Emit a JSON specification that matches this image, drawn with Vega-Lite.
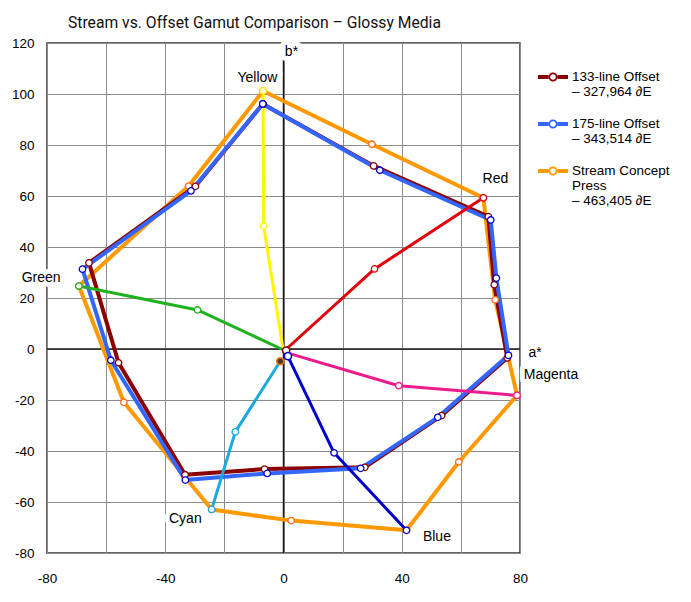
{
  "$schema": "https://vega.github.io/schema/vega-lite/v6.json",
  "width": 473,
  "height": 510,
  "padding": {"left": 11, "top": 15, "right": 0, "bottom": 0},
  "background": "white",
  "title": {
    "text": "Stream vs. Offset Gamut Comparison – Glossy Media",
    "anchor": "start",
    "frame": "group",
    "dx": 21,
    "offset": 4,
    "font": "Roboto",
    "fontSize": 15.7,
    "fontWeight": "normal",
    "color": "#111111"
  },
  "config": {
    "view": {"stroke": "#333333", "strokeWidth": 1.5},
    "font": "Liberation Sans"
  },
  "resolve": {"scale": {"stroke": "independent", "fill": "independent"}},
  "datasets": {
    "gamut": [
      {"series": "Stream Concept Press", "i": 1, "a": -6.9, "b": 101.2},
      {"series": "Stream Concept Press", "i": 2, "a": 29.9, "b": 80.3},
      {"series": "Stream Concept Press", "i": 3, "a": 67.6, "b": 59.3},
      {"series": "Stream Concept Press", "i": 4, "a": 71.6, "b": 19.3},
      {"series": "Stream Concept Press", "i": 5, "a": 79.0, "b": -18.2},
      {"series": "Stream Concept Press", "i": 6, "a": 59.3, "b": -44.3},
      {"series": "Stream Concept Press", "i": 7, "a": 41.6, "b": -71.1},
      {"series": "Stream Concept Press", "i": 8, "a": 2.6, "b": -67.3},
      {"series": "Stream Concept Press", "i": 9, "a": -24.3, "b": -62.9},
      {"series": "Stream Concept Press", "i": 10, "a": -54.0, "b": -20.9},
      {"series": "Stream Concept Press", "i": 11, "a": -69.2, "b": 24.7},
      {"series": "Stream Concept Press", "i": 12, "a": -32.1, "b": 63.9},
      {"series": "Stream Concept Press", "i": 13, "a": -6.9, "b": 101.2},
      {"series": "133-line Offset", "i": 1, "a": -7.0, "b": 96.1},
      {"series": "133-line Offset", "i": 2, "a": 30.5, "b": 71.8},
      {"series": "133-line Offset", "i": 3, "a": 69.3, "b": 51.9},
      {"series": "133-line Offset", "i": 4, "a": 71.3, "b": 25.2},
      {"series": "133-line Offset", "i": 5, "a": 75.7, "b": -3.5},
      {"series": "133-line Offset", "i": 6, "a": 53.5, "b": -26.1},
      {"series": "133-line Offset", "i": 7, "a": 27.5, "b": -46.4},
      {"series": "133-line Offset", "i": 8, "a": -6.4, "b": -47.1},
      {"series": "133-line Offset", "i": 9, "a": -33.3, "b": -49.3},
      {"series": "133-line Offset", "i": 10, "a": -55.8, "b": -5.4},
      {"series": "133-line Offset", "i": 11, "a": -65.8, "b": 33.8},
      {"series": "133-line Offset", "i": 12, "a": -29.8, "b": 63.8},
      {"series": "133-line Offset", "i": 13, "a": -7.0, "b": 96.1},
      {"series": "175-line Offset", "i": 1, "a": -7.0, "b": 96.1},
      {"series": "175-line Offset", "i": 2, "a": 32.6, "b": 70.1},
      {"series": "175-line Offset", "i": 3, "a": 70.1, "b": 50.6},
      {"series": "175-line Offset", "i": 4, "a": 72.0, "b": 27.8},
      {"series": "175-line Offset", "i": 5, "a": 76.1, "b": -2.5},
      {"series": "175-line Offset", "i": 6, "a": 52.2, "b": -26.8},
      {"series": "175-line Offset", "i": 7, "a": 26.1, "b": -46.8},
      {"series": "175-line Offset", "i": 8, "a": -5.5, "b": -48.8},
      {"series": "175-line Offset", "i": 9, "a": -33.2, "b": -51.4},
      {"series": "175-line Offset", "i": 10, "a": -58.4, "b": -4.4},
      {"series": "175-line Offset", "i": 11, "a": -68.0, "b": 31.3},
      {"series": "175-line Offset", "i": 12, "a": -31.3, "b": 62.0},
      {"series": "175-line Offset", "i": 13, "a": -7.0, "b": 96.1}
    ],
    "hue": [
      {"hue": "Yellow", "i": 0, "a": -0.2, "b": 0.3},
      {"hue": "Yellow", "i": 1, "a": -6.7, "b": 48.2},
      {"hue": "Yellow", "i": 2, "a": -6.9, "b": 101.2},
      {"hue": "Red", "i": 0, "a": 0.8, "b": -0.2},
      {"hue": "Red", "i": 1, "a": 30.8, "b": 31.4},
      {"hue": "Red", "i": 2, "a": 67.6, "b": 59.3},
      {"hue": "Green", "i": 0, "a": -0.3, "b": -0.2},
      {"hue": "Green", "i": 1, "a": -29.1, "b": 15.3},
      {"hue": "Green", "i": 2, "a": -69.2, "b": 24.7},
      {"hue": "Magenta", "i": 0, "a": 1.5, "b": -1.6},
      {"hue": "Magenta", "i": 1, "a": 39.0, "b": -14.4},
      {"hue": "Magenta", "i": 2, "a": 79.0, "b": -18.2},
      {"hue": "Blue", "i": 0, "a": 1.5, "b": -2.9},
      {"hue": "Blue", "i": 1, "a": 17.1, "b": -40.7},
      {"hue": "Blue", "i": 2, "a": 41.6, "b": -71.1},
      {"hue": "Cyan", "i": 0, "a": -1.1, "b": -4.8},
      {"hue": "Cyan", "i": 1, "a": -16.3, "b": -32.5},
      {"hue": "Cyan", "i": 2, "a": -24.3, "b": -62.9}
    ],
    "neutral": [
      {"series": "133-line Offset", "a": 0.9, "b": -0.6},
      {"series": "175-line Offset", "a": 1.5, "b": -2.8},
      {"series": "Stream Concept Press", "a": -1.1, "b": -4.8}
    ],
    "labels": [
      {"text": "Yellow", "a": -8.8, "b": 106.1},
      {"text": "Red", "a": 71.7, "b": 66.7},
      {"text": "Green", "a": -82.0, "b": 28.0},
      {"text": "Magenta", "a": 90.5, "b": -10.2},
      {"text": "Cyan", "a": -33.2, "b": -66.7},
      {"text": "Blue", "a": 51.9, "b": -73.7},
      {"text": "a*", "a": 85.1, "b": -1.6},
      {"text": "b*", "a": 2.7, "b": 116.5}
    ]
  },
  "layer": [
    {
      "data": {"values": [{"a": 0, "b": 0}]},
      "mark": {"type": "rule", "color": "#1a1a1a", "strokeWidth": 1.5},
      "encoding": {
        "x": {
          "field": "a", "type": "quantitative",
          "scale": {"domain": [-80, 80], "nice": false, "zero": false},
          "axis": {
            "title": null,
            "values": [-80, -60, -40, -20, 0, 20, 40, 60, 80],
            "labelExpr": "datum.value % 40 === 0 ? '' + datum.value : ''",
            "labelFlush": false,
            "grid": true, "gridColor": "#8c8c8c", "gridWidth": 1, "gridOpacity": 1,
            "ticks": false, "domain": false,
            "labelFont": "Liberation Sans", "labelFontSize": 13.5, "labelColor": "#000000",
            "labelPadding": 18
          }
        }
      }
    },
    {
      "data": {"values": [{"a": 0, "b": 0}]},
      "mark": {"type": "rule", "color": "#1a1a1a", "strokeWidth": 1.5},
      "encoding": {
        "y": {
          "field": "b", "type": "quantitative",
          "scale": {"domain": [-80, 120], "nice": false, "zero": false},
          "axis": {
            "title": null,
            "values": [-80, -60, -40, -20, 0, 20, 40, 60, 80, 100, 120],
            "labelExpr": "'' + datum.value",
            "labelFlush": false,
            "grid": true, "gridColor": "#8c8c8c", "gridWidth": 1, "gridOpacity": 1,
            "ticks": false, "domain": false,
            "labelFont": "Liberation Sans", "labelFontSize": 13.5, "labelColor": "#000000",
            "labelPadding": 13
          }
        }
      }
    },
    {
      "data": {"name": "gamut"},
      "mark": {"type": "line", "strokeWidth": 4, "strokeJoin": "round", "clip": false},
      "encoding": {
        "x": {"field": "a", "type": "quantitative", "scale": {"domain": [-80, 80], "nice": false, "zero": false}, "title": null},
        "y": {"field": "b", "type": "quantitative", "scale": {"domain": [-80, 120], "nice": false, "zero": false}, "title": null},
        "order": {"field": "i", "type": "quantitative"},
        "color": {
          "field": "series", "type": "nominal",
          "scale": {
            "domain": ["133-line Offset", "175-line Offset", "Stream Concept Press"],
            "range": ["#8b0000", "#3366ff", "#ff9900"]
          },
          "legend": {
            "title": null,
            "orient": "right",
            "offset": -1,
            "padding": 19,
            "rowPadding": 10,
            "symbolType": "M-1,-0.13H-0.3V0.13H-1Z M0.3,-0.13H1V0.13H0.3Z M0.3,0A0.3,0.3 0 1 1 -0.3,0A0.3,0.3 0 1 1 0.3,0Z M0.19,0A0.19,0.19 0 1 0 -0.19,0A0.19,0.19 0 1 0 0.19,0Z",
            "symbolSize": 900,
            "symbolStrokeWidth": 0,
            "labelFont": "Liberation Sans",
            "labelFontSize": 13.5,
            "labelColor": "#000000",
            "labelOffset": 4,
            "labelLimit": 200,
            "labelBaseline": "top",
            "labelExpr": "datum.label === '133-line Offset' ? ['133-line Offset', '– 327,964 ∂E'] : datum.label === '175-line Offset' ? ['175-line Offset', '– 343,514 ∂E'] : ['Stream Concept', 'Press', '– 463,405 ∂E']",
            "encode": {
              "symbols": {"update": {"fill": {"scale": "color", "field": "value"}, "stroke": {"value": "transparent"}, "opacity": {"value": 1}}},
              "labels": {"update": {"lineHeight": {"value": 15}, "dy": {"value": -7}}}
            }
          }
        }
      }
    },
    {
      "data": {"name": "hue"},
      "mark": {"type": "line", "strokeWidth": 3, "strokeJoin": "round", "clip": false},
      "encoding": {
        "x": {"field": "a", "type": "quantitative", "scale": {"domain": [-80, 80], "nice": false, "zero": false}, "title": null},
        "y": {"field": "b", "type": "quantitative", "scale": {"domain": [-80, 120], "nice": false, "zero": false}, "title": null},
        "order": {"field": "i", "type": "quantitative"},
        "detail": {"field": "hue", "type": "nominal"},
        "stroke": {
          "field": "hue", "type": "nominal",
          "scale": {
            "domain": ["Yellow", "Red", "Green", "Magenta", "Blue", "Cyan"],
            "range": ["#fff500", "#e0000b", "#1fb21f", "#ec1c8c", "#0000cd", "#1aa9e0"]
          },
          "legend": null
        }
      }
    },
    {
      "data": {"name": "gamut"},
      "mark": {"type": "point", "shape": "circle", "filled": true, "fill": "white", "size": 42, "strokeWidth": 1.3, "opacity": 1, "clip": false},
      "encoding": {
        "x": {"field": "a", "type": "quantitative", "scale": {"domain": [-80, 80], "nice": false, "zero": false}, "title": null},
        "y": {"field": "b", "type": "quantitative", "scale": {"domain": [-80, 120], "nice": false, "zero": false}, "title": null},
        "stroke": {
          "field": "series", "type": "nominal",
          "scale": {
            "domain": ["133-line Offset", "175-line Offset", "Stream Concept Press"],
            "range": ["#8b0000", "#0000cc", "#ff6a13"]
          },
          "legend": null
        }
      }
    },
    {
      "data": {"name": "hue"},
      "transform": [{"filter": "datum.i > 0"}],
      "mark": {"type": "point", "shape": "circle", "filled": true, "fill": "white", "size": 42, "strokeWidth": 1.3, "opacity": 1, "clip": false},
      "encoding": {
        "x": {"field": "a", "type": "quantitative", "scale": {"domain": [-80, 80], "nice": false, "zero": false}, "title": null},
        "y": {"field": "b", "type": "quantitative", "scale": {"domain": [-80, 120], "nice": false, "zero": false}, "title": null},
        "stroke": {
          "field": "hue", "type": "nominal",
          "scale": {
            "domain": ["Yellow", "Red", "Green", "Magenta", "Blue", "Cyan"],
            "range": ["#fff500", "#e0000b", "#1fb21f", "#ec1c8c", "#0000cd", "#1aa9e0"]
          },
          "legend": null
        }
      }
    },
    {
      "data": {"name": "neutral"},
      "mark": {"type": "point", "shape": "circle", "filled": true, "size": 50, "strokeWidth": 1.5, "opacity": 1, "clip": false},
      "encoding": {
        "x": {"field": "a", "type": "quantitative", "scale": {"domain": [-80, 80], "nice": false, "zero": false}, "title": null},
        "y": {"field": "b", "type": "quantitative", "scale": {"domain": [-80, 120], "nice": false, "zero": false}, "title": null},
        "stroke": {
          "field": "series", "type": "nominal",
          "scale": {
            "domain": ["133-line Offset", "175-line Offset", "Stream Concept Press"],
            "range": ["#8b0000", "#0000cc", "#ff7a00"]
          },
          "legend": null
        },
        "fill": {
          "field": "series", "type": "nominal",
          "scale": {
            "domain": ["133-line Offset", "175-line Offset", "Stream Concept Press"],
            "range": ["#ffffff", "#ffffff", "#4a3b2c"]
          },
          "legend": null
        }
      }
    },
    {
      "data": {"name": "labels"},
      "mark": {"type": "text", "font": "Liberation Sans", "fontSize": 14, "align": "center", "baseline": "middle", "fill": "white", "stroke": "white", "strokeWidth": 10, "strokeJoin": "round", "clip": false},
      "encoding": {
        "x": {"field": "a", "type": "quantitative", "scale": {"domain": [-80, 80], "nice": false, "zero": false}, "title": null},
        "y": {"field": "b", "type": "quantitative", "scale": {"domain": [-80, 120], "nice": false, "zero": false}, "title": null},
        "text": {"field": "text", "type": "nominal"}
      }
    },
    {
      "data": {"name": "labels"},
      "mark": {"type": "text", "font": "Liberation Sans", "fontSize": 14, "align": "center", "baseline": "middle", "color": "#000000", "clip": false},
      "encoding": {
        "x": {"field": "a", "type": "quantitative", "scale": {"domain": [-80, 80], "nice": false, "zero": false}, "title": null},
        "y": {"field": "b", "type": "quantitative", "scale": {"domain": [-80, 120], "nice": false, "zero": false}, "title": null},
        "text": {"field": "text", "type": "nominal"}
      }
    }
  ]
}
